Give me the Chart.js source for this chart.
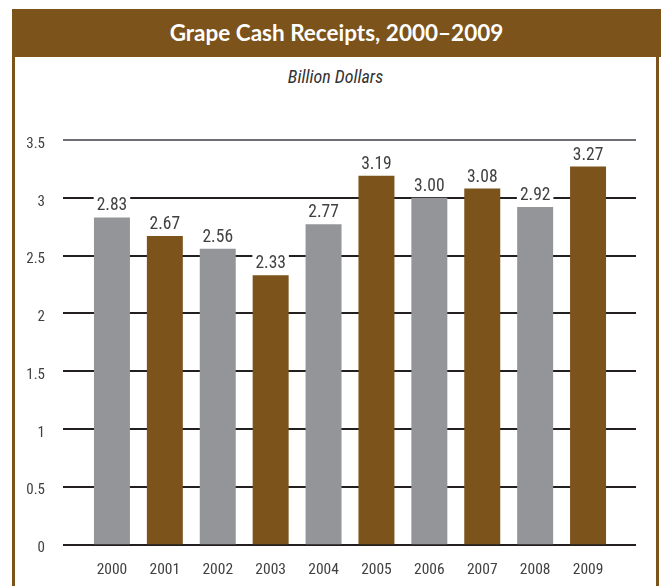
<!DOCTYPE html>
<html>
<head>
<meta charset="utf-8">
<script src="https://cdn.jsdelivr.net/npm/chart.js@4.4.1/dist/chart.umd.min.js"></script>
<style>
  html, body { margin:0; padding:0; background:#fff; }
  body { width:661px; height:586px; position:relative; overflow:hidden; }
  .titlebar { position:absolute; left:12px; top:9px; width:649px; height:48px; background:#7b531b;
    color:#fff; font:bold 22.5px Lato, 'Open Sans', sans-serif; text-align:center; line-height:48px; }
  .bl { position:absolute; left:12px; top:57px; width:3px; height:529px; background:#7b531b; }
  .br { position:absolute; left:656px; top:57px; width:3px; height:529px; background:#7b531b; }
  .sub { position:absolute; left:12px; width:647px; top:66px; text-align:center; color:#333;
    font:italic 18px 'Roboto Condensed', 'DejaVu Sans Condensed', sans-serif; }
  #wrap { position:absolute; left:0; top:0; width:661px; height:586px; }
</style>
</head>
<body>
<div class="titlebar">Grape Cash Receipts, 2000–2009</div>
<div class="bl"></div><div class="br"></div>
<div class="sub">Billion Dollars</div>
<div id="wrap"><canvas id="chart"></canvas></div>
<script>
// data
const years  = ['2000','2001','2002','2003','2004','2005','2006','2007','2008','2009'];
const values = [2.83, 2.67, 2.56, 2.33, 2.77, 3.19, 3.00, 3.08, 2.92, 3.27];
const yTicks = [0, 0.5, 1, 1.5, 2, 2.5, 3, 3.5];

const GRAY  = '#939598';
const BROWN = '#7b531b';
const INK   = '#414042';
const NARROW = "'Roboto Condensed', 'DejaVu Sans Condensed', sans-serif";

// horizontal rules run wider than the bars
const gridRules = {
  id: 'gridRules',
  beforeDatasetsDraw(chart) {
    const { ctx, scales: { y } } = chart;
    ctx.save();
    yTicks.forEach(v => {
      const py = Math.round(y.getPixelForValue(v));
      ctx.strokeStyle = v === 3.5 ? '#6d6e71' : '#231f20';
      ctx.lineWidth = 2;
      ctx.beginPath();
      ctx.moveTo(63, py);
      ctx.lineTo(636, py);
      ctx.stroke();
    });
    ctx.restore();
  }
};

// value labels on a white patch, cutting the rules
const valueLabels = {
  id: 'valueLabels',
  afterDatasetsDraw(chart) {
    const { ctx } = chart;
    const meta = chart.getDatasetMeta(0);
    ctx.save();
    ctx.font = '17.5px ' + NARROW;
    ctx.textAlign = 'center';
    ctx.textBaseline = 'alphabetic';
    meta.data.forEach((bar, i) => {
      const txt = values[i].toFixed(2);
      const w = ctx.measureText(txt).width;
      const base = bar.y - 7;
      ctx.fillStyle = '#fff';
      ctx.fillRect(bar.x - w / 2 - 3, base - 16, w + 6, 19);
      ctx.fillStyle = INK;
      ctx.fillText(txt, bar.x, base);
    });
    ctx.restore();
  }
};

new Chart(document.getElementById('chart'), {
  type: 'bar',
  data: {
    labels: years,
    datasets: [{
      data: values,
      backgroundColor: years.map((_, i) => i % 2 ? BROWN : GRAY),
      barPercentage: 0.68,
      categoryPercentage: 1,
    }]
  },
  options: {
    responsive: true,
    maintainAspectRatio: false,
    animation: false,
    layout: { padding: { top: 140, right: 46.5, bottom: 8, left: 0 } },
    plugins: { legend: { display: false }, tooltip: { enabled: false } },
    scales: {
      x: {
        grid: { display: false }, border: { display: false },
        ticks: { color: INK, font: { family: NARROW, size: 15.5 }, padding: 8 },
        afterFit: s => { s.height = 30; }
      },
      y: {
        min: 0, max: 3.5,
        grid: { display: false }, border: { display: false },
        ticks: { stepSize: 0.5, color: INK, font: { family: NARROW, size: 15 }, padding: 32.5, labelOffset: 4,
                 callback: v => String(v) },
        afterFit: s => { s.width = 85.5; }
      }
    }
  },
  plugins: [gridRules, valueLabels]
});
</script>
</body>
</html>
